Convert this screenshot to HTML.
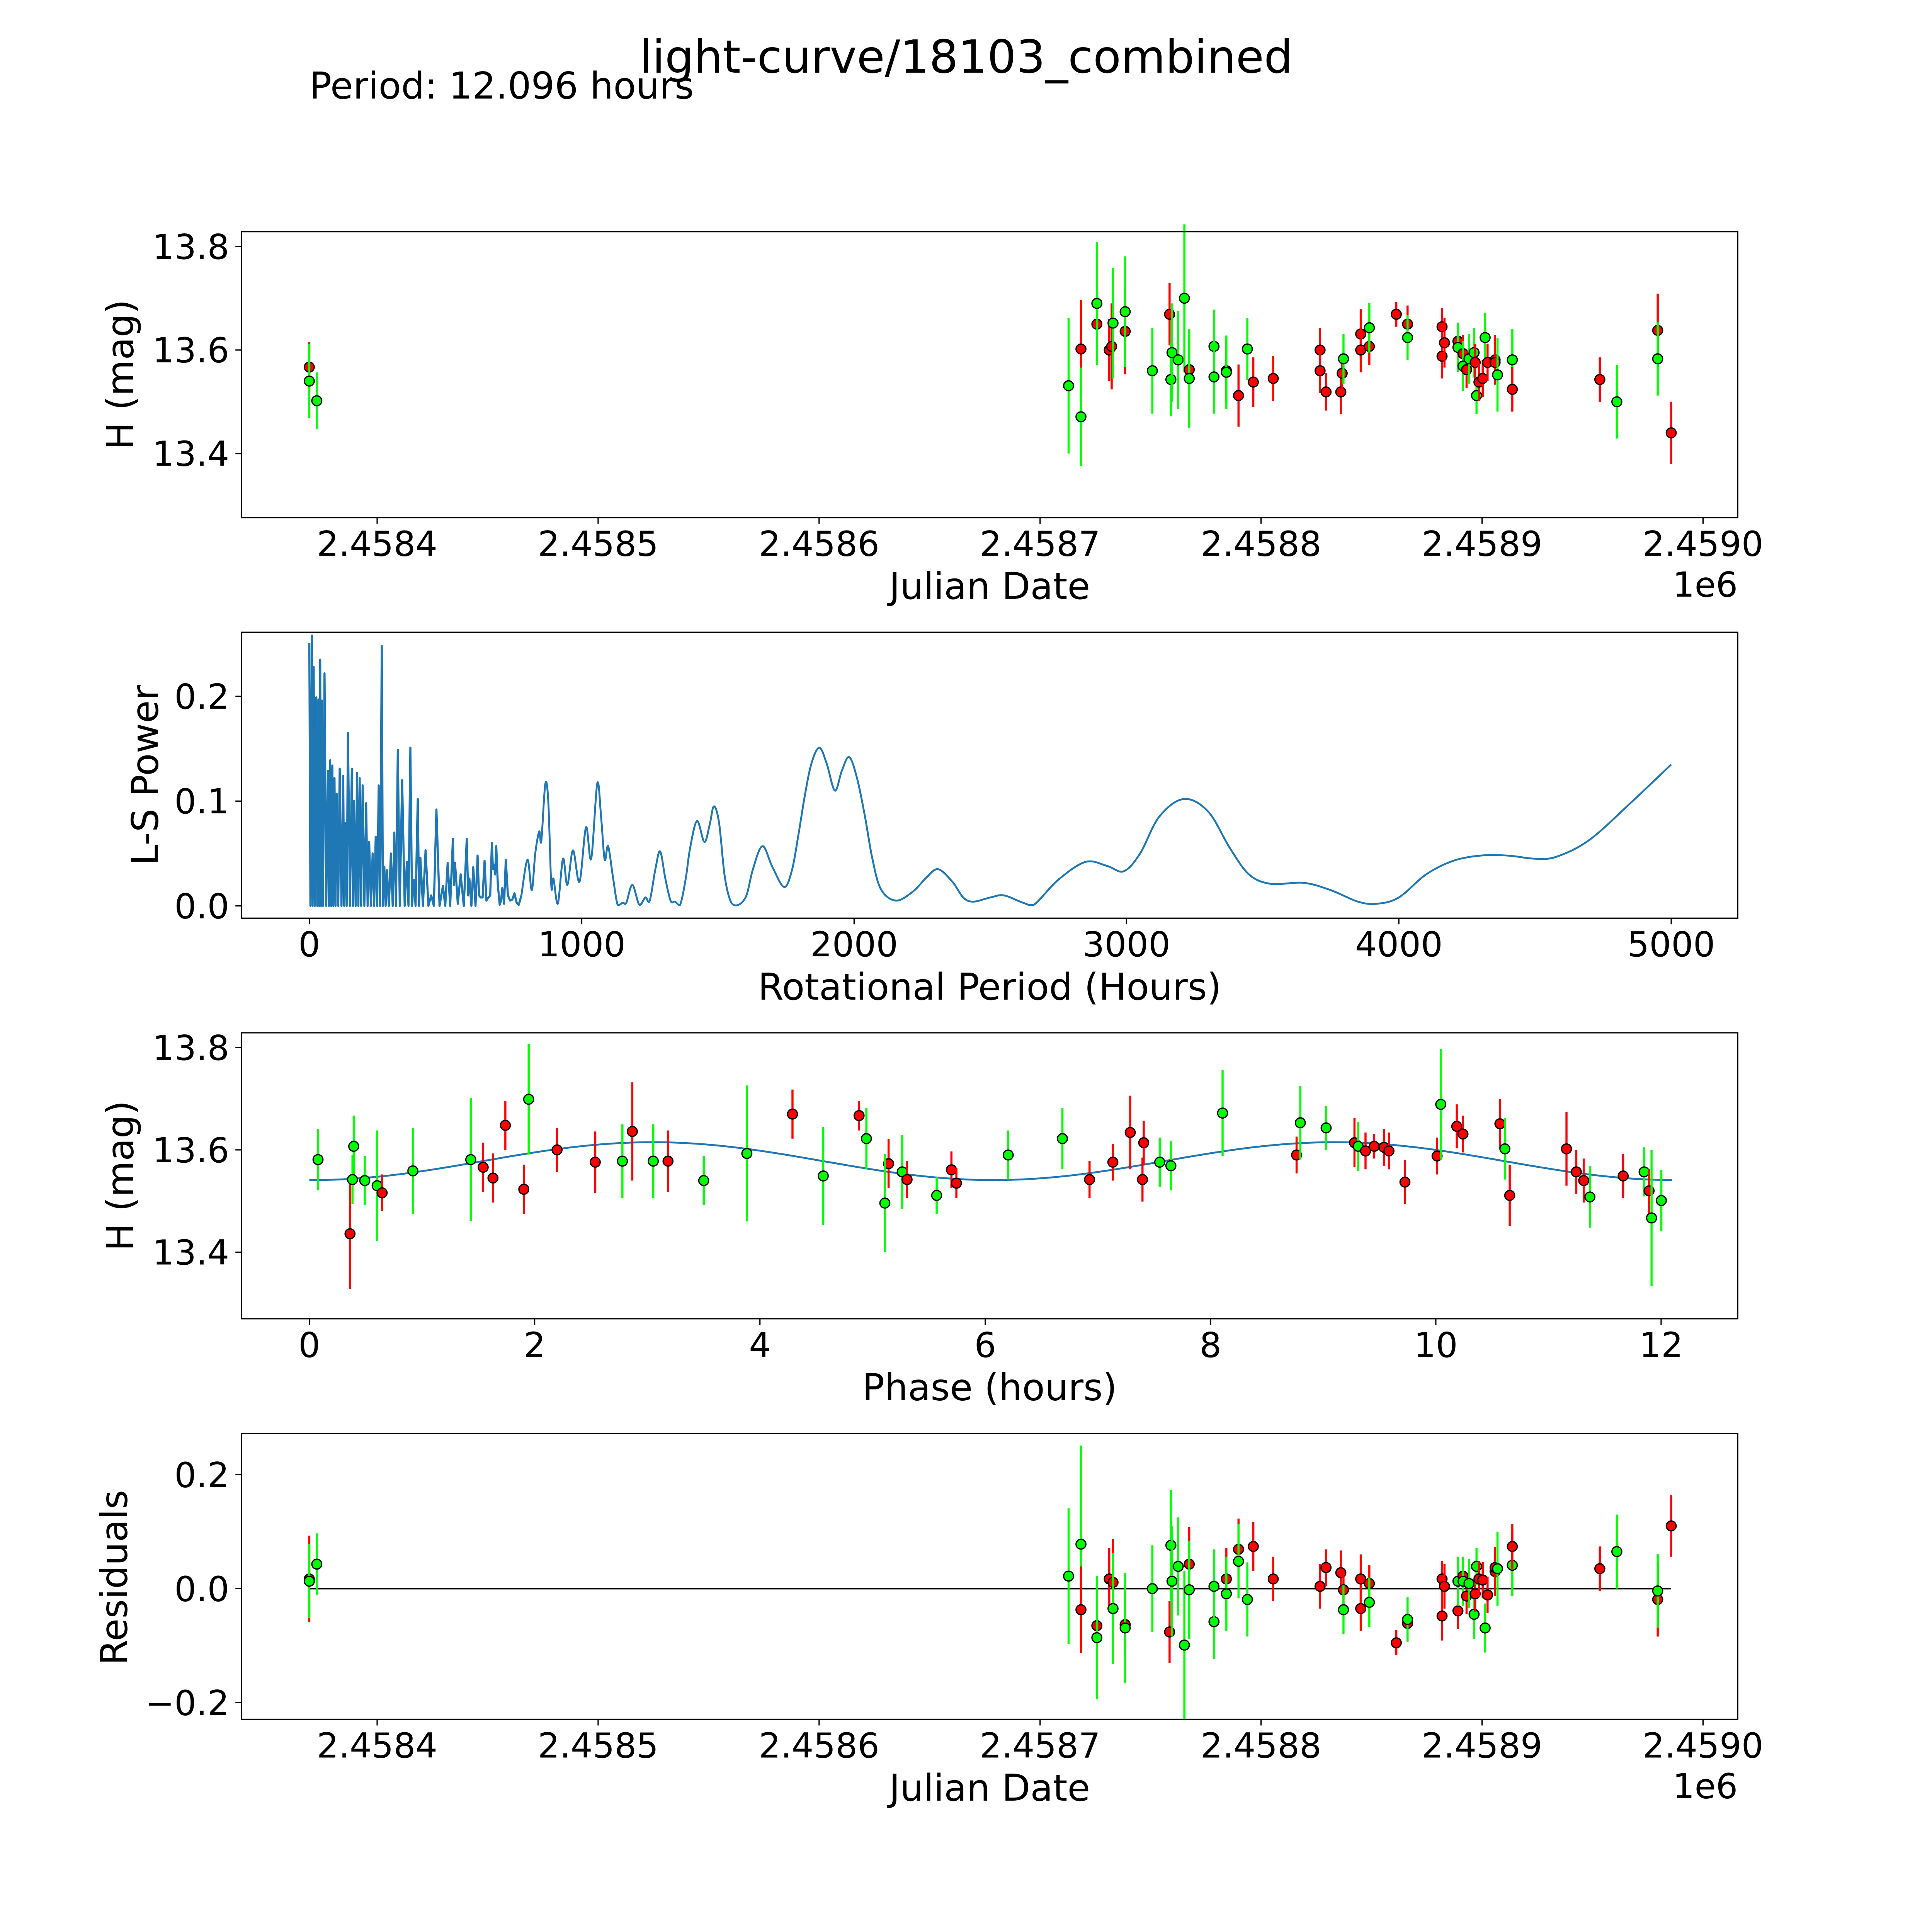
<!DOCTYPE html>
<html><head><meta charset="utf-8"><style>
html,body{margin:0;padding:0;background:#fff;width:5400px;height:5400px;overflow:hidden}
svg{display:block;width:5400px;height:5400px}
text{font-family:"DejaVu Sans","Liberation Sans",sans-serif;fill:#000}
</style></head><body>
<svg id="fig" width="5400" height="5400" viewBox="0 0 1693 1693" preserveAspectRatio="xMinYMin meet" xmlns="http://www.w3.org/2000/svg">
<rect x="0" y="0" width="1693" height="1693" fill="#fff"/>
<text x="784" y="59" font-size="37" text-anchor="middle">light-curve/18103_combined</text>
<text x="251" y="80" font-size="30">Period: 12.096 hours</text>
<g id="p1"></g>
<g id="p2"></g>
<g id="p3"></g>
<g id="p4"></g>
</svg>
<script>
// ---- Panel 1: light curve (JD - 2458000) ----
const lcDay=[369.3,369.3,372.7,712.9,718.5,718.5,725.7,725.7,731.3,732.4,733,738.5,738.5,750.8,758.6,759.2,759.7,762.5,765.3,767.5,767.5,778.7,778.7,784.3,784.3,789.8,793.8,796.5,805.5,826.7,826.7,829.4,836.1,836.7,837.3,845.1,845.1,849,849,861.2,866.3,866.3,881.9,881.9,883,889.1,889.1,891.4,891.4,893,894.1,896.4,896.9,897.5,898.6,900.3,901.4,902.5,905.9,905.9,907,913.7,913.7,953.3,961,979.5,979.5,985.6];
const lcMag=[13.567,13.540,13.502,13.531,13.602,13.471,13.650,13.690,13.600,13.607,13.652,13.636,13.674,13.560,13.669,13.543,13.595,13.581,13.700,13.562,13.545,13.607,13.548,13.560,13.557,13.512,13.602,13.538,13.545,13.600,13.560,13.519,13.519,13.555,13.583,13.631,13.600,13.607,13.643,13.669,13.650,13.624,13.645,13.588,13.614,13.617,13.605,13.593,13.569,13.562,13.583,13.595,13.576,13.512,13.538,13.545,13.624,13.576,13.581,13.576,13.552,13.581,13.524,13.543,13.500,13.638,13.583,13.440];
const lcErr=[.048,.071,.055,.131,.095,.095,.048,.119,.060,.083,.107,.083,.107,.083,.060,.071,.095,.095,.143,.060,.095,.071,.071,.060,.071,.060,.060,.048,.043,.043,.043,.036,.043,.036,.048,.048,.043,.036,.048,.024,.036,.043,.036,.043,.048,.036,.048,.036,.048,.036,.048,.048,.036,.036,.036,.036,.048,.036,.048,.036,.071,.060,.043,.043,.071,.071,.071,.060];
const lcBand=["r","g","g","g","r","g","r","g","r","r","g","r","g","g","r","g","g","g","g","r","g","g","g","r","g","r","g","r","r","r","r","r","r","r","g","r","r","r","g","r","r","g","r","r","r","r","g","r","g","r","g","g","r","g","r","r","g","r","r","r","g","g","r","r","g","r","g","r"];
const jdTicks=[400,500,600,700,800,900,1000];
const jdTickLabels=["2.4584","2.4585","2.4586","2.4587","2.4588","2.4589","2.4590"];
const hTicks=[13.4,13.6,13.8];
const hTickLabels=["13.4","13.6","13.8"];

// ---- Panel 2: periodogram (dense short-period part) ----
const lsPeriodDense=[
0,4,9.6,12,15.9,20,25.5,29,33.4,36,
39.8,43,46.2,50,55.7,62,68.5,72,76.4,80,
84.4,88,92.3,96,100.3,106,111.4,118,124.2,128,
132.1,137,141.7,149,156,160,164,170,175.1,180,
184.7,190,195.8,202,208.6,214,219.7,226,232.4,238,
243.6,249,254.7,260,265.9,270,275.4,280,285,292,
299.3,306,312,318,324.8,332,340.7,350,358.2,364,
370.9,377,383.7,390,398,403,407.6,417,426.7,437,
447.4,457,466.5,478,490.3,499,507.8,517,527,531,
534.9,545,555.6,567,577.9,583,587.5,595,601.8,610,
617.7,623,628.8,636,643.2,650,657.5,664,670.2,674,
678.2,682,686.2,692,698.9,704,708.4,715,721.2,729,
737.1,745,753,761,768.9,778.5];
const lsPowerDense=[
.251,0,.258,0,.228,0,.199,0,.197,0,
.235,0,.196,0,.222,0,.129,0,.139,0,
.134,0,.122,0,.107,0,.131,0,.124,0,
.079,0,.165,0,.131,0,.100,0,.127,0,
.122,0,.115,0,.098,0,.061,0,.050,0,
.066,0,.115,0,.248,0,.037,0,.034,0,
.050,0,.070,0,.149,0,.120,0,.042,0,
.151,0,.025,0,.102,0,.046,0,.053,0,
.010,0,.092,0,.019,0,.041,0,.064,.020,
.041,.002,.030,0,.064,.010,.026,0,.037,0,
.048,.010,.008,.008,.043,.005,.008,.010,.060,.035,
.039,.030,.057,.020,.001,.005,.017,.002,.044,.010,
.005,.006,.012,.003,.001,.010];
// smooth long-period part
const lsPeriodSmooth=[
778.5,800.8,816.7,829.4,843.8,851.7,866.0,877.2,888.3,896.3,
912.2,931.3,947.2,967.9,991.8,1015.7,1034.8,1057.1,1071.4,1084.2,
1096.9,1114.4,1131.9,1151.0,1163.8,1186.0,1211.5,1233.8,1249.7,1270.4,
1287.9,1307,1326.1,1342.1,1361.2,1381.9,1397.8,1423.2,1450.3,1469.4,
1485.3,1504.4,1525.1,1549,1576.1,1604.8,1628.6,1663.6,1700.2,1743.2,
1771.8,1795.7,1819.6,1843.5,1872.2,1899.2,1929.5,1955,1982.0,2010.7,
2039.4,2066.4,2098.3,2153.9,2217.6,2265.4,2308.3,2360.9,2400.7,2437.3,
2500,2550,2620,2660,2750,2850,2930,2990,3050,3120,
3210,3300,3380,3450,3530,3650,3750,3850,3920,4000,
4100,4200,4300,4400,4500,4580,4700,4850,5000];
const lsPowerSmooth=[
.010,.044,.015,.050,.071,.062,.116,.100,.019,.026,
.002,.045,.020,.053,.023,.075,.045,.117,.084,.044,
.057,.028,.001,.003,.003,.020,.001,.008,.005,.035,
.052,.026,.005,.004,.001,.026,.055,.081,.061,.077,
.095,.079,.028,.003,.001,.010,.035,.057,.037,.018,
.034,.068,.106,.136,.151,.136,.110,.129,.142,.122,
.086,.046,.016,.005,.014,.027,.035,.023,.008,.004,
.008,.010,.003,.001,.025,.042,.038,.033,.050,.085,
.102,.090,.055,.030,.021,.022,.015,.004,.002,.008,
.030,.043,.048,.048,.045,.047,.063,.098,.135];
const lsXTicks=[0,1000,2000,3000,4000,5000];
const lsYTicks=[0,0.1,0.2];
const lsYTickLabels=["0.0","0.1","0.2"];

// ---- Panel 3: phase fold ----
const phHour=[0.077,0.361,0.394,0.383,0.492,0.602,0.646,0.919,1.433,1.543,1.630,1.740,1.904,1.947,2.199,2.538,2.779,2.867,3.053,3.184,3.501,3.884,4.289,4.562,4.880,4.945,5.142,5.109,5.263,5.306,5.569,5.700,5.744,6.204,6.685,6.926,7.133,7.287,7.407,7.396,7.549,7.648,8.107,8.764,8.797,9.026,9.278,9.311,9.376,9.453,9.540,9.584,9.726,10.011,10.044,10.186,10.241,10.569,10.613,10.656,11.160,11.247,11.313,11.368,11.663,11.849,11.893,11.915,12.002];
const phMag=[13.581,13.436,13.607,13.542,13.540,13.530,13.516,13.559,13.581,13.566,13.545,13.648,13.523,13.699,13.600,13.576,13.578,13.636,13.578,13.578,13.540,13.593,13.670,13.549,13.667,13.622,13.573,13.496,13.557,13.542,13.511,13.561,13.535,13.590,13.622,13.542,13.576,13.634,13.614,13.542,13.576,13.569,13.672,13.590,13.653,13.643,13.614,13.607,13.598,13.607,13.605,13.598,13.537,13.588,13.689,13.646,13.631,13.651,13.602,13.511,13.602,13.557,13.540,13.508,13.549,13.557,13.520,13.467,13.501];
const phErr=[.060,.108,.060,.048,.048,.108,.036,.084,.120,.048,.048,.048,.048,.108,.043,.060,.072,.096,.072,.060,.048,.133,.048,.096,.029,.060,.048,.096,.072,.036,.036,.036,.029,.048,.060,.036,.036,.072,.043,.043,.048,.048,.084,.036,.072,.043,.048,.048,.036,.024,.036,.036,.043,.036,.108,.043,.036,.048,.060,.060,.072,.043,.043,.060,.043,.048,.043,.133,.060];
const phBand=["g","r","g","g","g","g","r","g","g","r","r","r","r","g","r","r","g","r","g","r","g","g","r","g","r","g","r","g","g","r","g","r","r","g","g","r","r","r","r","r","g","g","g","r","g","g","r","g","r","r","r","r","r","r","g","r","r","r","g","r","r","r","r","g","r","g","r","g","g"];
const fitMean=[13.578];
const fitAmp=[0.037];
const fitPeakPhase=[3.05];
const fitPeriod=[12.096];
const phXTicks=[0,2,4,6,8,10,12];

// ---- Panel 4: residuals ----
const resDay=[369.3,369.3,372.7,712.9,718.5,718.5,725.7,725.7,731.3,733,733,738.5,738.5,750.8,758.6,759.2,759.7,762.5,765.3,767.5,767.5,778.7,778.7,784.3,784.3,789.8,789.8,793.8,796.5,805.5,826.7,829.4,836.1,837.3,837.3,845.1,845.1,849,849,861.2,866.3,866.3,881.9,883,881.9,889.1,889.1,891.4,891.4,893,894.1,896.4,896.9,897.5,898.6,900.3,901.4,902.5,905.9,905.9,907,913.7,913.7,953.3,961,979.5,979.5,985.6];
const resVal=[.017,.013,.043,.022,.078,-.037,-.065,-.086,.017,.011,-.035,-.063,-.069,0,-.076,.076,.013,.039,-.099,.043,-.002,-.058,.004,.017,-.009,.069,.048,-.019,.074,.017,.004,.037,.028,-.002,-.037,.017,-.035,.009,-.024,-.095,-.061,-.054,.017,.004,-.048,-.039,.013,.022,.013,-.013,.009,-.045,-.009,.039,.017,.015,-.069,-.011,.030,.037,.035,.041,.074,.035,.065,-.019,-.004,.110];
const resErr=[.076,.065,.054,.119,.173,.076,.043,.108,.054,.076,.097,.054,.097,.076,.054,.097,.097,.086,.130,.065,.086,.065,.065,.054,.065,.054,.065,.065,.043,.039,.039,.032,.039,.032,.043,.043,.039,.032,.043,.022,.032,.039,.032,.039,.043,.032,.043,.032,.043,.032,.043,.043,.032,.032,.032,.032,.043,.032,.043,.032,.065,.054,.039,.039,.065,.065,.065,.054];
const resBand=["r","g","g","g","g","r","r","g","r","r","g","r","g","g","r","g","g","g","g","r","g","g","g","r","g","r","g","g","r","r","r","r","r","r","g","r","r","r","g","r","r","g","r","r","r","r","g","r","g","r","g","g","r","g","r","r","g","r","r","r","g","g","r","r","g","r","g","r"];
const resYTicks=[-0.2,0,0.2];
const resYTickLabels=["\u22120.2","0.0","0.2"];

const NS="http://www.w3.org/2000/svg";
const COL={r:"#ff0000",g:"#00ff00"};
function mk(parent,tag,attrs){const e=document.createElementNS(NS,tag);for(const k in attrs)e.setAttribute(k,attrs[k]);parent.appendChild(e);return e;}

const xJD=d=>306+(d-400)*1.793;
const yH1=h=>200+(13.8-h)*420;
const xLS=p=>251+p*0.2210;
const yLS=v=>735-v*850;
const xPH=h=>251+h*91.4;
const yH3=h=>850+(13.8-h)*415;
const yRS=r=>1289-r*462.5;

function frame(g,top,name){
  const r=mk(g,"rect",{x:196,y:top,width:1214,height:232,fill:"none",stroke:"#000","stroke-width":1});
  
  
}
function xTick(g,x,bottom,label){
  const l=mk(g,"line",{x1:x,y1:bottom,x2:x,y2:bottom+5,stroke:"#000","stroke-width":1});
  
  
  const t=mk(g,"text",{x:x,y:bottom+31,"font-size":28,"text-anchor":"middle"});
  t.textContent=label;
  
  
}
function yTick(g,y,label){
  const l=mk(g,"line",{x1:191,y1:y,x2:196,y2:y,stroke:"#000","stroke-width":1});
  
  
  const t=mk(g,"text",{x:186,y:y+10,"font-size":28,"text-anchor":"end"});
  t.textContent=label;
  
  
}
function xLabel(g,y,txt){
  const t=mk(g,"text",{x:803,y:y,"font-size":30,"text-anchor":"middle"});
  t.textContent=txt;
  
  
}
function yLabel(g,x,y,txt){
  const t=mk(g,"text",{x:x,y:y,"font-size":30,"text-anchor":"middle",transform:`rotate(-90 ${x} ${y})`});
  t.textContent=txt;
  
  
}
function point(g,x,y,ylo,yhi,c){
  const l=mk(g,"line",{x1:x,y1:ylo,x2:x,y2:yhi,stroke:COL[c],"stroke-width":1.7});
  
  
  const m=mk(g,"circle",{cx:x,cy:y,r:4,fill:COL[c],stroke:"#000","stroke-width":1});
  
  
}

// Panel 1
(function(){
  const g=document.getElementById("p1");
  jdTicks.forEach((d,i)=>xTick(g,xJD(d),420,jdTickLabels[i]));
  hTicks.forEach((h,i)=>yTick(g,yH1(h),hTickLabels[i]));
  for(let i=0;i<lcDay.length;i++){
    point(g,xJD(lcDay[i]),yH1(lcMag[i]),yH1(lcMag[i]+lcErr[i]),yH1(lcMag[i]-lcErr[i]),lcBand[i]);
  }
  frame(g,188,"light-curve");
  xLabel(g,486,"Julian Date");
  const o=mk(g,"text",{x:1410,y:484,"font-size":28,"text-anchor":"end"});o.textContent="1e6";
  
  
  yLabel(g,108,304,"H (mag)");
})();

// Panel 2
(function(){
  const g=document.getElementById("p2");
  lsXTicks.forEach(p=>xTick(g,xLS(p),745,String(p)));
  lsYTicks.forEach((v,i)=>yTick(g,yLS(v),lsYTickLabels[i]));
  let d="";
  for(let i=0;i<lsPeriodDense.length;i++){d+=(i?"L":"M")+xLS(lsPeriodDense[i]).toFixed(2)+" "+yLS(lsPowerDense[i]).toFixed(2);}
  const p=mk(g,"path",{d:d,fill:"none",stroke:"#1f77b4","stroke-width":1.7,"stroke-linejoin":"round"});
  
  
  const P=lsPeriodSmooth.map((t,i)=>[xLS(t),yLS(lsPowerSmooth[i])]);
  let s="M"+P[0][0].toFixed(2)+" "+P[0][1].toFixed(2);
  for(let i=0;i<P.length-1;i++){
    const p0=P[Math.max(0,i-1)],p1=P[i],p2=P[i+1],p3=P[Math.min(P.length-1,i+2)];
    const c1=[p1[0]+(p2[0]-p0[0])/6,p1[1]+(p2[1]-p0[1])/6];
    const c2=[p2[0]-(p3[0]-p1[0])/6,p2[1]-(p3[1]-p1[1])/6];
    s+="C"+c1[0].toFixed(2)+" "+Math.min(c1[1],735).toFixed(2)+" "+c2[0].toFixed(2)+" "+Math.min(c2[1],735).toFixed(2)+" "+p2[0].toFixed(2)+" "+p2[1].toFixed(2);
  }
  const q=mk(g,"path",{d:s,fill:"none",stroke:"#1f77b4","stroke-width":1.5});
  
  
  frame(g,513,"periodogram");
  xLabel(g,811,"Rotational Period (Hours)");
  yLabel(g,128,629,"L-S Power");
})();

// Panel 3
(function(){
  const g=document.getElementById("p3");
  phXTicks.forEach(h=>xTick(g,xPH(h),1070,String(h)));
  hTicks.forEach((h,i)=>yTick(g,yH3(h),hTickLabels[i]));
  let d="";
  for(let k=0;k<=200;k++){
    const ph=fitPeriod[0]*k/200;
    const h=fitMean[0]+fitAmp[0]*Math.cos(2*Math.PI*(ph-fitPeakPhase[0])/(fitPeriod[0]/2));
    d+=(k?"L":"M")+xPH(ph).toFixed(2)+" "+yH3(h).toFixed(2);
  }
  const p=mk(g,"path",{d:d,fill:"none",stroke:"#1f77b4","stroke-width":1.5});
  
  
  for(let i=0;i<phHour.length;i++){
    point(g,xPH(phHour[i]),yH3(phMag[i]),yH3(phMag[i]+phErr[i]),yH3(phMag[i]-phErr[i]),phBand[i]);
  }
  frame(g,838,"phase-fold");
  xLabel(g,1136,"Phase (hours)");
  yLabel(g,108,954,"H (mag)");
})();

// Panel 4
(function(){
  const g=document.getElementById("p4");
  jdTicks.forEach((d,i)=>xTick(g,xJD(d),1395,jdTickLabels[i]));
  resYTicks.forEach((v,i)=>yTick(g,yRS(v),resYTickLabels[i]));
  const z=mk(g,"line",{x1:xJD(resDay[0]),y1:yRS(0),x2:xJD(resDay[resDay.length-1]),y2:yRS(0),stroke:"#000","stroke-width":1.2});
  
  
  for(let i=0;i<resDay.length;i++){
    point(g,xJD(resDay[i]),yRS(resVal[i]),yRS(resVal[i]+resErr[i]),yRS(resVal[i]-resErr[i]),resBand[i]);
  }
  frame(g,1163,"residuals");
  xLabel(g,1461,"Julian Date");
  const o=mk(g,"text",{x:1410,y:1459,"font-size":28,"text-anchor":"end"});o.textContent="1e6";
  
  
  yLabel(g,103,1280,"Residuals");
})();
</script>
</body></html>
